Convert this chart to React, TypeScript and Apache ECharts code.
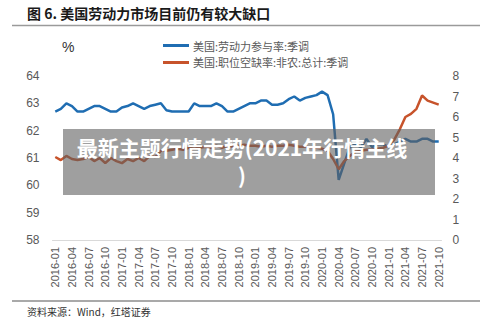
import React, { useEffect, useRef } from "react";
import * as echarts from "echarts";

const titleText = "图 6. 美国劳动力市场目前仍有较大缺口";
const sourceText = "资料来源：Wind，红塔证券";
const overlayText = "最新主题行情走势(2021年行情主线\n)";
const seriesNames = ["美国:劳动力参与率:季调", "美国:职位空缺率:非农:总计:季调"];

const years = [2016, 2017, 2018, 2019, 2020, 2021];
const lastMonthOfLastYear = 10;

// 美国:劳动力参与率:季调 (%) — left axis
const participation = [
  62.7, 62.8, 63.0, 62.9, 62.7, 62.7, 62.8, 62.9, 62.9, 62.8, 62.7, 62.7,
  62.85, 62.9, 63.0, 62.9, 62.8, 62.9, 62.95, 63.0, 62.75, 62.7, 62.7, 62.7,
  62.7, 63.0, 62.9, 62.9, 62.9, 63.0, 62.9, 62.7, 62.7, 62.8, 62.9, 63.0,
  63.0, 63.1, 63.1, 62.95, 62.95, 63.0, 63.15, 63.25, 63.1, 63.2, 63.25, 63.3,
  63.43, 63.3, 62.6, 60.2, 60.8, 61.4, 61.5, 61.4, 61.7, 61.4, 61.5, 61.5,
  61.4, 61.5, 61.6, 61.7, 61.6, 61.6, 61.7, 61.7, 61.6, 61.6,
];

// 美国:职位空缺率:非农:总计:季调 (%) — right axis
const openings = [
  4.05, 3.9, 4.1, 3.95, 3.9, 3.95, 4.05, 3.85, 4.0, 3.75, 4.0, 3.85,
  3.75, 3.95, 3.85, 4.0, 3.85, 4.1, 4.05, 4.35, 4.35, 4.4, 4.45, 4.4,
  4.5, 4.45, 4.5, 4.55, 4.5, 4.6, 4.5, 4.6, 4.55, 4.6, 4.65, 4.6,
  4.6, 4.55, 4.6, 4.55, 4.6, 4.6, 4.65, 4.6, 4.55, 4.55, 4.5, 4.5,
  4.45, 4.35, 3.95, 3.45, 3.85, 4.1, 4.3, 4.35, 4.4, 4.4, 4.45, 4.5,
  4.6, 4.9, 5.4, 6.0, 6.15, 6.4, 7.05, 6.8, 6.7, 6.6,
];

const categories: string[] = [];
years.forEach((y, yi) => {
  const lastM = yi === years.length - 1 ? lastMonthOfLastYear : 12;
  for (let m = 1; m <= lastM; m++) {
    categories.push(`${y}-${m < 10 ? "0" + m : m}`);
  }
});

const BLUE = "#1f6db2";
const RED = "#c7532b";
const LABEL = "#595959";
const CJK = "'Noto Sans CJK SC', sans-serif";
const LATIN = "'Liberation Sans', Arial, sans-serif";

export default function App() {
  const ref = useRef<HTMLDivElement>(null);
  useEffect(() => {
    if (!ref.current) return;
    const chart = echarts.init(ref.current, null, { renderer: "svg" });
    chart.setOption({
      animation: false,
      backgroundColor: "#ffffff",
      grid: { left: 52.5, right: 58.5, top: 76, bottom: 83 },
      legend: {
        orient: "vertical",
        left: 158,
        top: 35,
        itemGap: 6,
        itemWidth: 26,
        itemHeight: 3,
        icon: "rect",
        textStyle: { color: LABEL, fontSize: 11, fontFamily: CJK, padding: [0, 0, 0, -1] },
        data: seriesNames,
      },
      xAxis: {
        type: "category",
        data: categories,
        boundaryGap: true,
        axisLine: { lineStyle: { color: "#d9d9d9", width: 1 } },
        axisTick: { interval: 2, length: 4, lineStyle: { color: "#d9d9d9" } },
        axisLabel: {
          interval: 2,
          rotate: 90,
          margin: 7,
          color: LABEL,
          fontSize: 11,
          fontFamily: LATIN,
        },
        splitLine: { show: false },
      },
      yAxis: [
        {
          type: "value",
          min: 58,
          max: 64,
          interval: 1,
          axisLine: { show: false },
          axisTick: { show: false },
          splitLine: { show: false },
          axisLabel: { color: LABEL, fontSize: 12, fontFamily: LATIN, margin: 13 },
        },
        {
          type: "value",
          min: 0,
          max: 8,
          interval: 1,
          position: "right",
          axisLine: { show: false },
          axisTick: { show: false },
          splitLine: { show: false },
          axisLabel: { color: LABEL, fontSize: 12, fontFamily: LATIN, margin: 11 },
        },
      ],
      series: [
        {
          name: seriesNames[0],
          type: "line",
          yAxisIndex: 0,
          data: participation,
          symbol: "none",
          lineStyle: { color: BLUE, width: 2.5 },
          itemStyle: { color: BLUE },
        },
        {
          name: seriesNames[1],
          type: "line",
          yAxisIndex: 1,
          data: openings,
          symbol: "none",
          lineStyle: { color: RED, width: 2.5 },
          itemStyle: { color: RED },
        },
      ],
      graphic: [
        {
          type: "text",
          left: 27,
          top: 6,
          style: {
            text: titleText,
            fill: "#1a1a1a",
            font: `bold 14px ${CJK}`,
          },
        },
        {
          type: "line",
          shape: { x1: 12, y1: 25.5, x2: 480, y2: 25.5 },
          style: { stroke: "#9a9a9a", lineWidth: 1.5 },
        },
        {
          type: "text",
          left: 62,
          top: 40,
          style: { text: "%", fill: "#333", font: `14px ${LATIN}` },
        },
        {
          type: "line",
          shape: { x1: 12, y1: 301, x2: 480, y2: 301 },
          style: { stroke: "#555", lineWidth: 1.2 },
        },
        {
          type: "text",
          left: 27,
          top: 306,
          style: { text: sourceText, fill: "#333", font: `10px ${CJK}` },
        },
        {
          type: "rect",
          z: 100,
          shape: { x: 63, y: 129, width: 372, height: 66 },
          style: { fill: "rgba(95,95,95,0.6)" },
        },
        {
          type: "text",
          z: 101,
          x: 242,
          y: 133,
          style: {
            text: overlayText,
            fill: "#ffffff",
            font: `bold 21px ${CJK}`,
            textAlign: "center",
            lineHeight: 28,
          },
        },
      ],
    });
    return () => chart.dispose();
  }, []);
  return <div ref={ref} style={{ width: 500, height: 323, position: "absolute", left: 0, top: 0 }} />;
}
